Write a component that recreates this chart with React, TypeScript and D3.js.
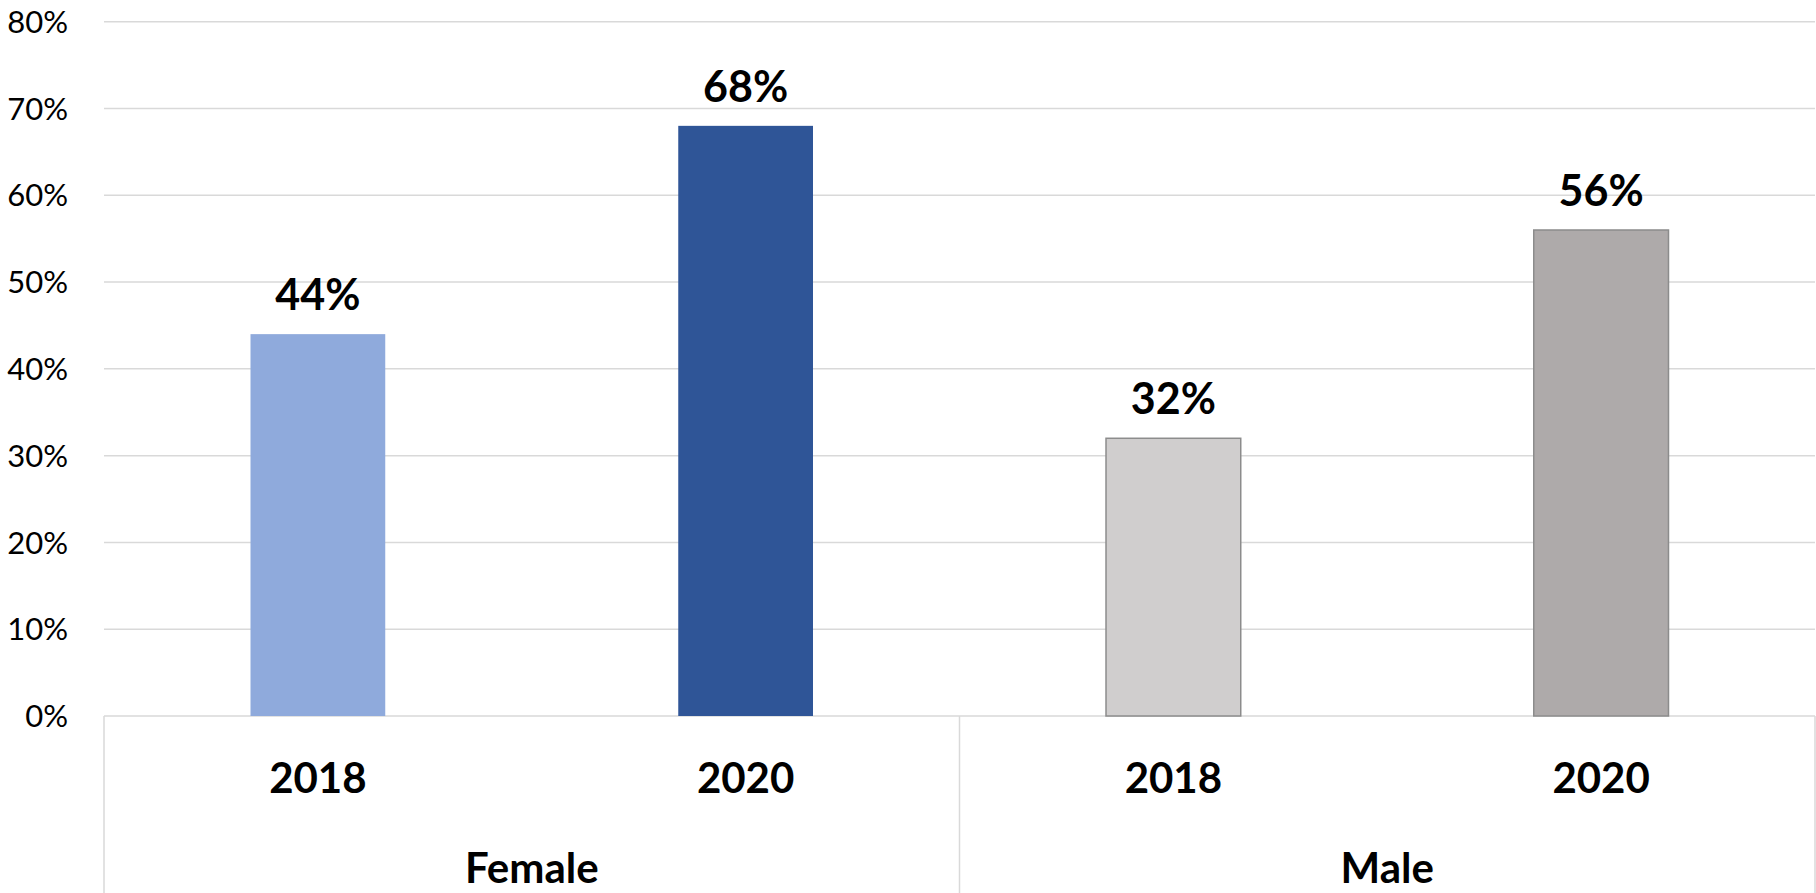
import React from "react";
import * as d3 from "d3";

const groups = ["Female", "Male"];
const years = ["2018", "2020"];
const values = [44, 68, 32, 56];
const barColors = ["#8FAADC", "#2F5597", "#D0CECE", "#AEAAAA"];
const barStrokes = ["none", "none", "#8C8C8C", "#8C8C8C"];
const yTicks = [0, 10, 20, 30, 40, 50, 60, 70, 80];

const W = 1816;
const H = 893;
const left = 104;
const right = 1815;
const top = 21.7;
const bottom = 716;
const FONT = "Lato, 'Open Sans', sans-serif";

export default function App() {
  const cats = groups.flatMap((g) => years.map((y) => `${g}-${y}`));
  const x = d3.scaleBand<string>().domain(cats).range([left, right]).paddingInner(0.685).paddingOuter(0.3425);
  const xGroup = d3.scaleBand<string>().domain(groups).range([left, right]);
  const yScale = d3.scaleLinear().domain([0, 80]).range([bottom, top]);
  const bw = x.bandwidth();

  return (
    <svg width={W} height={H} style={{ position: "absolute", left: 0, top: 0, background: "#fff" }}>
      {yTicks.map((t) => (
        <g key={t}>
          {t > 0 && (
            <line x1={left} x2={right} y1={yScale(t)} y2={yScale(t)} stroke="#D9D9D9" strokeWidth={1.5} />
          )}
          <text x={68} y={yScale(t)} dy="0.36em" textAnchor="end" fontFamily={FONT} fontSize={31} fill="#000">
            {t}%
          </text>
        </g>
      ))}
      {/* axis line and category boxes */}
      <line x1={left} x2={right} y1={bottom} y2={bottom} stroke="#D9D9D9" strokeWidth={1.5} />
      {[left, xGroup("Male")!, right].map((xx, i) => (
        <line key={i} x1={xx} x2={xx} y1={bottom} y2={H} stroke="#D9D9D9" strokeWidth={1.5} />
      ))}
      {cats.map((c, i) => {
        const x0 = x(c)!;
        const y0 = yScale(values[i]);
        return (
          <g key={c}>
            <rect
              x={x0}
              y={y0}
              width={bw}
              height={bottom - y0}
              fill={barColors[i]}
              stroke={barStrokes[i]}
              strokeWidth={1.5}
            />
            <text
              x={x0 + bw / 2}
              y={y0 - 24}
              textAnchor="middle"
              fontFamily={FONT}
              fontWeight="bold"
              fontSize={43}
              fill="#000"
            >
              {values[i]}%
            </text>
            <text
              x={x0 + bw / 2}
              y={793}
              textAnchor="middle"
              fontFamily={FONT}
              fontWeight="bold"
              fontSize={42}
              fill="#000"
            >
              {years[i % 2]}
            </text>
          </g>
        );
      })}
      {groups.map((g) => (
        <text
          key={g}
          x={xGroup(g)! + xGroup.bandwidth() / 2}
          y={883}
          textAnchor="middle"
          fontFamily={FONT}
          fontWeight="bold"
          fontSize={42}
          fill="#000"
        >
          {g}
        </text>
      ))}
    </svg>
  );
}
